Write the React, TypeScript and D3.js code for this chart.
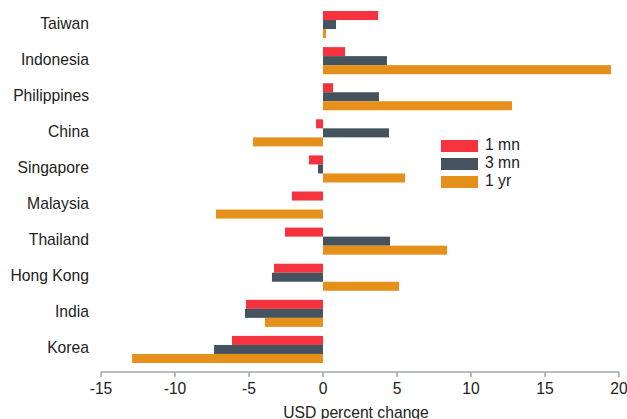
import React from "react";
import * as d3 from "d3";

const categories = ["Taiwan", "Indonesia", "Philippines", "China", "Singapore", "Malaysia", "Thailand", "Hong Kong", "India", "Korea"];
const series = ["1 mn", "3 mn", "1 yr"];
const oneMonth = [3.72, 1.49, 0.68, -0.47, -0.95, -2.1, -2.57, -3.31, -5.2, -6.15];
const threeMonth = [0.88, 4.32, 3.78, 4.46, -0.34, 0, 4.53, -3.45, -5.27, -7.36];
const oneYear = [0.2, 19.46, 12.77, -4.73, 5.54, -7.23, 8.38, 5.14, -3.92, -12.9];
const xTicks = [-15, -10, -5, 0, 5, 10, 15, 20];
const colors = ["#f5333f", "#44535e", "#e5901b"];

const W = 627, H = 419;

export default function App() {
  const x = d3.scaleLinear().domain([-15, 20]).range([101, 619]);
  const y = d3.scaleBand().domain(categories).range([6.5, 367.5]).paddingInner(0.25).paddingOuter(0.125);
  const sub = d3.scaleBand().domain(series).range([0, y.bandwidth()]);
  const data = [oneMonth, threeMonth, oneYear];
  const axisY = 372;
  const fs = 15.7;
  const font = "'Liberation Sans', Arial, sans-serif";
  return (
    <svg width={W} height={H} style={{ position: "absolute", left: 0, top: 0 }} fontFamily={font}>
      <rect width={W} height={H} fill="#fff" />
      {categories.map((c, i) => (
        <g key={c}>
          {data.map((s, j) => {
            const v = s[i];
            const x0 = x(Math.min(0, v));
            const x1 = x(Math.max(0, v));
            return (
              <rect key={j} x={x0} y={(y(c) as number) + (sub(series[j]) as number)} width={x1 - x0} height={sub.bandwidth()} fill={colors[j]} />
            );
          })}
          <text x={89} y={(y(c) as number) + y.bandwidth() / 2 - 1.5} dy="0.35em" textAnchor="end" fontSize={fs} fill="#222">{c}</text>
        </g>
      ))}
      <line x1={x(-15)} x2={x(20)} y1={axisY} y2={axisY} stroke="#a3a8ad" strokeWidth={1.5} />
      {xTicks.map((t) => (
        <g key={t}>
          <line x1={x(t)} x2={x(t)} y1={axisY} y2={axisY + 5} stroke="#a3a8ad" strokeWidth={1.5} />
          <text x={x(t)} y={389} dy="0.35em" textAnchor="middle" fontSize={fs} fill="#222">{t}</text>
        </g>
      ))}
      <text x={356} y={417.5} textAnchor="middle" fontSize={fs} fill="#222">USD percent change</text>
      {series.map((s, j) => (
        <g key={s}>
          <rect x={441} y={140 + j * 18} width={37} height={12} fill={colors[j]} />
          <text x={485} y={144.5 + j * 18} dy="0.35em" fontSize={fs} fill="#222">{s}</text>
        </g>
      ))}
    </svg>
  );
}
